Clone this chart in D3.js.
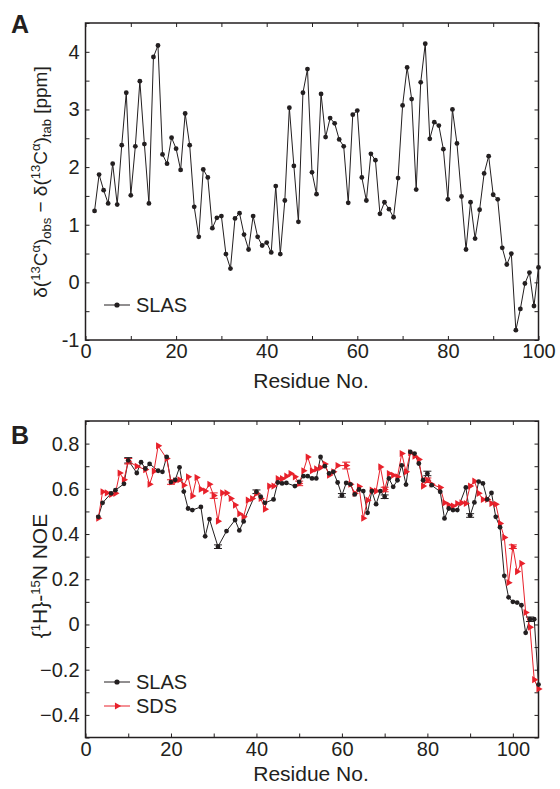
<!DOCTYPE html>
<html>
<head>
<meta charset="utf-8">
<script src="https://cdn.jsdelivr.net/npm/d3@7"></script>
<style>
  body { margin: 0; background: #fff; }
  svg { font-family: "Liberation Sans", Arial, sans-serif; }
  .tick text { font-size: 20px; fill: #231f20; }
  .tick line { stroke: #231f20; }
</style>
</head>
<body>
<script>
// Panel A: secondary chemical shift, residues 2..100
const resA = d3.range(2, 101);
const shiftA = [1.24, 1.87, 1.60, 1.37, 2.06, 1.35, 2.38, 3.29, 1.51, 2.36, 3.49, 2.40, 1.37, 3.91, 4.11,
  2.22, 2.06, 2.51, 2.32, 1.95, 2.93, 2.38, 1.31, 0.79, 1.96, 1.82, 0.94, 1.12, 1.15, 0.49, 0.24, 1.11,
  1.20, 0.83, 0.57, 1.15, 0.79, 0.64, 0.69, 0.52, 1.67, 0.49, 1.42, 3.03, 2.02, 1.05, 3.29, 3.70, 1.91,
  1.53, 3.27, 2.52, 2.85, 2.76, 2.48, 2.36, 1.38, 2.91, 2.98, 1.82, 1.42, 2.23, 2.12, 1.19, 1.39, 1.27,
  1.13, 1.81, 3.07, 3.73, 3.18, 1.61, 3.47, 4.14, 2.49, 2.78, 2.72, 2.31, 1.44, 3.00, 2.41, 1.49, 0.57,
  1.39, 0.76, 1.26, 1.89, 2.19, 1.52, 1.44, 0.60, 0.31, 0.50, -0.83, -0.46, -0.02, 0.17, -0.41, 0.26];

// Panel B: heteronuclear NOE
const slasRes = [3, 4, 6, 7, 9, 10, 12, 13, 14, 15, 17, 18, 19, 20, 21, 22, 23, 24, 25, 27, 28, 29, 31, 33,
  35, 36, 37, 40, 41, 42, 44, 45, 46, 47, 49, 50, 51, 52, 53, 54, 55, 56, 57, 58, 59, 60, 61, 62, 63, 64,
  65, 66, 67, 68, 69, 70, 71, 72, 73, 74, 75, 76, 77, 78, 79, 80, 81, 83, 84, 85, 86, 87, 89, 90, 91, 92,
  93, 94, 95, 96, 97, 98, 99, 100, 101, 102, 103, 104, 105, 106];
const slasNoe = [0.476, 0.538, 0.58, 0.594, 0.622, 0.726, 0.67, 0.718, 0.69, 0.71, 0.68, 0.675, 0.741, 0.63,
  0.64, 0.695, 0.588, 0.513, 0.506, 0.52, 0.39, 0.466, 0.344, 0.413, 0.462, 0.416, 0.456, 0.587, 0.565,
  0.538, 0.553, 0.628, 0.624, 0.626, 0.612, 0.631, 0.656, 0.656, 0.646, 0.646, 0.741, 0.70, 0.668, 0.675,
  0.628, 0.571, 0.626, 0.62, 0.575, 0.597, 0.59, 0.494, 0.59, 0.532, 0.59, 0.565, 0.646, 0.609, 0.638,
  0.704, 0.619, 0.763, 0.756, 0.712, 0.638, 0.668, 0.616, 0.587, 0.469, 0.513, 0.506, 0.506, 0.606, 0.482,
  0.54, 0.632, 0.624, 0.553, 0.582, 0.476, 0.43, 0.215, 0.12, 0.10, 0.097, 0.085, -0.037, 0.023, 0.023, -0.266];
const slasErrRes = [10, 31, 40, 60, 70, 80, 90, 104];
const slasErr = [0.012, 0.008, 0.008, 0.008, 0.008, 0.01, 0.008, 0.01];

const sdsRes = [3, 4, 5, 6, 7, 8, 9, 10, 12, 14, 15, 16, 17, 19, 20, 21, 22, 23, 24, 25, 26, 27, 28, 29, 30,
  31, 32, 33, 34, 35, 36, 37, 38, 39, 40, 41, 42, 43, 44, 45, 46, 47, 48, 49, 50, 51, 52, 53, 54, 55, 56,
  57, 58, 59, 61, 62, 63, 64, 65, 66, 67, 68, 69, 70, 71, 72, 73, 74, 75, 76, 77, 78, 79, 80, 81, 83, 84,
  85, 86, 87, 88, 89, 90, 91, 92, 93, 94, 95, 96, 97, 98, 99, 100, 101, 102, 103, 104, 105, 106];
const sdsNoe = [0.47, 0.587, 0.582, 0.575, 0.58, 0.67, 0.64, 0.722, 0.70, 0.685, 0.62, 0.678, 0.79, 0.734,
  0.63, 0.635, 0.64, 0.616, 0.653, 0.568, 0.65, 0.598, 0.59, 0.62, 0.57, 0.457, 0.582, 0.582, 0.557, 0.528,
  0.49, 0.476, 0.55, 0.557, 0.58, 0.557, 0.51, 0.612, 0.612, 0.645, 0.645, 0.656, 0.668, 0.653, 0.624, 0.68,
  0.741, 0.68, 0.688, 0.694, 0.71, 0.66, 0.675, 0.703, 0.703, 0.62, 0.58, 0.61, 0.47, 0.55, 0.594, 0.59,
  0.697, 0.597, 0.668, 0.66, 0.653, 0.756, 0.675, 0.76, 0.744, 0.73, 0.612, 0.638, 0.62, 0.606, 0.538,
  0.528, 0.524, 0.535, 0.538, 0.535, 0.612, 0.634, 0.58, 0.553, 0.553, 0.535, 0.532, 0.447, 0.385, 0.185,
  0.344, 0.234, 0.27, 0.053, -0.012, -0.244, -0.285];
const sdsErrRes = [10, 20, 30, 50, 61, 70, 80, 100];
const sdsErr = [0.012, 0.01, 0.012, 0.01, 0.015, 0.01, 0.01, 0.008];

const xTicksA = d3.range(0, 101, 10);
const yTicksA = d3.range(-1, 4.51, 0.5);
const xTicksB = d3.range(0, 101, 10);
const yTicksB = d3.range(-0.5, 0.91, 0.1).map(v => Math.round(v * 10) / 10);

const ink = "#231f20";
const red = "#e8212b";

const svg = d3.select("body").append("svg")
  .attr("width", 560)
  .attr("height", 789);

const xA = d3.scaleLinear().domain([0, 100]).range([85.5, 538.5]);
const yA = d3.scaleLinear().domain([-1, 4.5]).range([340, 23]);
const xB = d3.scaleLinear().domain([0, 106]).range([85.5, 538.5]);
const yB = d3.scaleLinear().domain([-0.5, 0.9]).range([737.5, 421]);

function fmtB(v) {
  if (Math.abs(v) < 1e-9) return "0";
  return d3.format(".1f")(v);
}

// frame with inward ticks on all four sides
function drawFrame(x, y, xt, yt, xfmt, yfmt) {
  const g = svg.append("g");
  const [x0, x1] = x.range();
  const [y0, y1] = y.range();
  g.append("g").attr("transform", `translate(0,${y0})`)
    .call(d3.axisBottom(x).tickValues(xt).tickSizeInner(-4).tickSizeOuter(0).tickPadding(4).tickFormat(xfmt));
  g.append("g").attr("transform", `translate(0,${y1})`)
    .call(d3.axisTop(x).tickValues(xt).tickSizeInner(-4).tickSizeOuter(0).tickFormat(""));
  g.append("g").attr("transform", `translate(${x0},0)`)
    .call(d3.axisLeft(y).tickValues(yt).tickSizeInner(-4).tickSizeOuter(0).tickPadding(6).tickFormat(yfmt));
  g.append("g").attr("transform", `translate(${x1},0)`)
    .call(d3.axisRight(y).tickValues(yt).tickSizeInner(-4).tickSizeOuter(0).tickFormat(""));
  g.selectAll(".domain").remove();
  g.selectAll(".tick line").attr("stroke-width", 1);
  g.append("rect")
    .attr("x", x0).attr("y", y1)
    .attr("width", x1 - x0).attr("height", y0 - y1)
    .attr("fill", "none").attr("stroke", ink).attr("stroke-width", 1.5);
  return g;
}

// ---------- Panel A ----------
const gA = drawFrame(xA, yA, xTicksA, yTicksA,
  d => d % 20 === 0 ? d : "",
  d => Number.isInteger(d) ? d : "");

const dataA = resA.map((r, i) => ({ r, v: shiftA[i] }));
svg.append("path")
  .datum(dataA)
  .attr("fill", "none").attr("stroke", ink).attr("stroke-width", 1)
  .attr("d", d3.line().x(d => xA(d.r)).y(d => yA(d.v)));
svg.append("g").selectAll("circle")
  .data(dataA).join("circle")
  .attr("cx", d => xA(d.r)).attr("cy", d => yA(d.v))
  .attr("r", 2.4).attr("fill", ink);

// legend A
svg.append("line").attr("x1", 104).attr("x2", 130).attr("y1", 305).attr("y2", 305)
  .attr("stroke", ink).attr("stroke-width", 1);
svg.append("circle").attr("cx", 117).attr("cy", 305).attr("r", 2.6).attr("fill", ink);
svg.append("text").attr("x", 136).attr("y", 312).attr("font-size", 20).attr("fill", ink).text("SLAS");

svg.append("text").attr("x", 311).attr("y", 388).attr("text-anchor", "middle")
  .attr("font-size", 21).attr("fill", ink).text("Residue No.");

svg.append("text").attr("x", 11).attr("y", 33).attr("font-size", 25).attr("font-weight", "bold")
  .attr("fill", ink).text("A");

// y title A with sub/superscripts
const tA = svg.append("text")
  .attr("transform", "translate(47,182) rotate(-90)")
  .attr("text-anchor", "middle").attr("font-size", 19).attr("fill", ink);
function part(t, s, kind) {
  const sp = t.append("tspan").text(s);
  if (kind === "sup") sp.attr("font-size", 13).attr("dy", -7);
  if (kind === "sub") sp.attr("font-size", 13).attr("dy", 4);
  return sp;
}
function reset(t, s, dy) { t.append("tspan").attr("dy", dy).text(s); }
part(tA, "δ(");
part(tA, "13", "sup");
reset(tA, "C", 7);
part(tA, "α", "sup");
reset(tA, ")", 7);
part(tA, "obs", "sub");
reset(tA, " − δ(", -4);
part(tA, "13", "sup");
reset(tA, "C", 7);
part(tA, "α", "sup");
reset(tA, ")", 7);
part(tA, "tab", "sub");
reset(tA, "  [ppm]", -4);

// ---------- Panel B ----------
const gB = drawFrame(xB, yB, xTicksB, yTicksB,
  d => d % 20 === 0 ? d : "",
  d => Math.abs(Math.round(d * 10)) % 2 === 0 ? fmtB(d) : "");

const dataSlas = slasRes.map((r, i) => ({ r, v: slasNoe[i] }));
const dataSds = sdsRes.map((r, i) => ({ r, v: sdsNoe[i] }));
const lineB = d3.line().x(d => xB(d.r)).y(d => yB(d.v));

svg.append("path").datum(dataSlas)
  .attr("fill", "none").attr("stroke", ink).attr("stroke-width", 1).attr("d", lineB);
svg.append("path").datum(dataSds)
  .attr("fill", "none").attr("stroke", red).attr("stroke-width", 1).attr("d", lineB);

function errorBars(resArr, errArr, valRes, valArr, color) {
  const g = svg.append("g").attr("stroke", color).attr("stroke-width", 1);
  resArr.forEach((r, i) => {
    const v = valArr[valRes.indexOf(r)];
    const e = errArr[i];
    const cx = xB(r);
    g.append("line").attr("x1", cx).attr("x2", cx).attr("y1", yB(v - e)).attr("y2", yB(v + e));
    [v - e, v + e].forEach(w => {
      g.append("line").attr("x1", cx - 4).attr("x2", cx + 4).attr("y1", yB(w)).attr("y2", yB(w));
    });
  });
}
errorBars(slasErrRes, slasErr, slasRes, slasNoe, ink);
errorBars(sdsErrRes, sdsErr, sdsRes, sdsNoe, red);

const tri = d3.symbol().type(d3.symbolTriangle).size(22);
svg.append("g").selectAll("path")
  .data(dataSds).join("path")
  .attr("d", tri)
  .attr("transform", d => `translate(${xB(d.r)},${yB(d.v)}) rotate(90)`)
  .attr("fill", red);
svg.append("g").selectAll("circle")
  .data(dataSlas).join("circle")
  .attr("cx", d => xB(d.r)).attr("cy", d => yB(d.v))
  .attr("r", 2.4).attr("fill", ink);

// legend B
svg.append("line").attr("x1", 104).attr("x2", 130).attr("y1", 682).attr("y2", 682)
  .attr("stroke", ink).attr("stroke-width", 1);
svg.append("circle").attr("cx", 117).attr("cy", 682).attr("r", 2.6).attr("fill", ink);
svg.append("text").attr("x", 136).attr("y", 689).attr("font-size", 20).attr("fill", ink).text("SLAS");
svg.append("line").attr("x1", 104).attr("x2", 130).attr("y1", 706).attr("y2", 706)
  .attr("stroke", red).attr("stroke-width", 1);
svg.append("path").attr("d", tri).attr("transform", "translate(117,706) rotate(90)").attr("fill", red);
svg.append("text").attr("x", 136).attr("y", 713).attr("font-size", 20).attr("fill", ink).text("SDS");

svg.append("text").attr("x", 311).attr("y", 781).attr("text-anchor", "middle")
  .attr("font-size", 21).attr("fill", ink).text("Residue No.");

svg.append("text").attr("x", 11).attr("y", 444).attr("font-size", 25).attr("font-weight", "bold")
  .attr("fill", ink).text("B");

const tB = svg.append("text")
  .attr("transform", "translate(47,576) rotate(-90)")
  .attr("text-anchor", "middle").attr("font-size", 21).attr("fill", ink);
part(tB, "{");
part(tB, "1", "sup");
reset(tB, "H}-", 7);
part(tB, "15", "sup");
reset(tB, "N NOE", 7);
</script>
</body>
</html>
